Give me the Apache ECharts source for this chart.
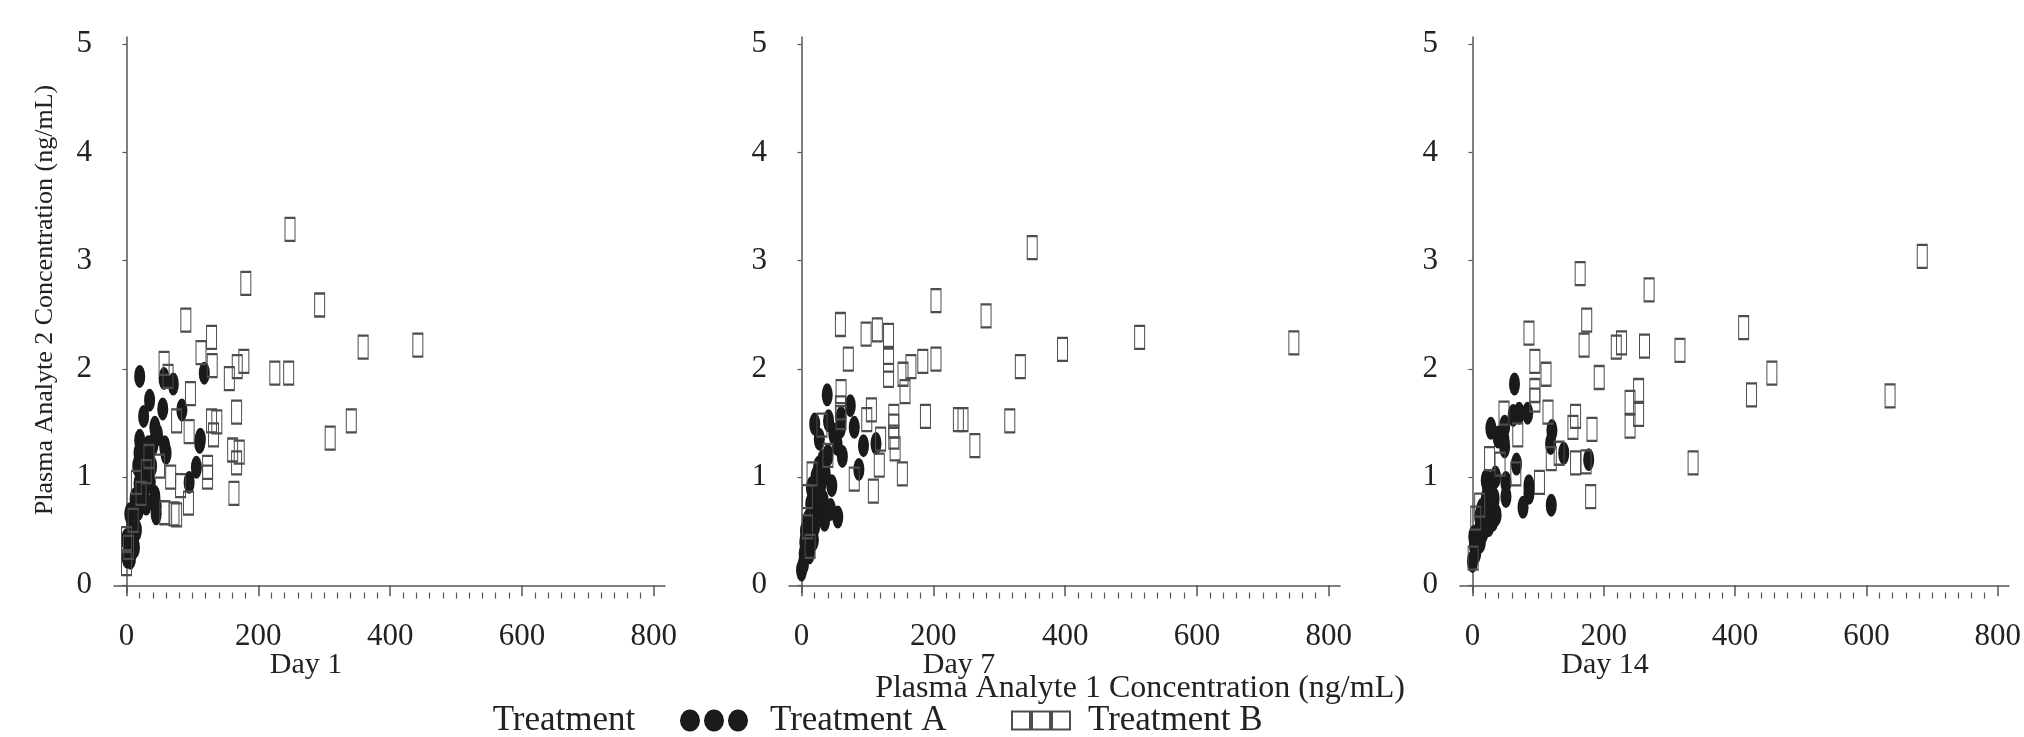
<!DOCTYPE html>
<html>
<head>
<meta charset="utf-8">
<script src="https://cdn.jsdelivr.net/npm/echarts@6/dist/echarts.min.js"></script>
<style>
  html, body { margin: 0; padding: 0; background: #ffffff; }
  #chart { width: 2024px; height: 737px; }
</style>
</head>
<body>
<div id="chart"></div>
<script>
// tick labels
var xMajorTicks = [0, 200, 400, 600, 800];
var xMinorTicks = [20, 40, 60, 80, 100, 120, 140, 160, 180, 220, 240, 260, 280, 300, 320, 340, 360, 380,
  420, 440, 460, 480, 500, 520, 540, 560, 580, 620, 640, 660, 680, 700, 720, 740, 760, 780];
var yTicks = [0, 1, 2, 3, 4, 5];
var dayLabels = ['Day 1', 'Day 7', 'Day 14'];

// Day 1  [analyte 1, analyte 2]
var day1A = [[20,1.93],[57,1.91],[71,1.86],[118,1.96],[35,1.71],[55,1.63],[84,1.62],[26,1.56],[43,1.46],
  [20,1.34],[19,1.22],[33,1.28],[40,1.30],[58,1.28],[60,1.22],[111,1.32],[106,1.09],[95,0.95],[28,1.09],
  [19,0.94],[43,0.82],[45,0.66],[23,0.76],[5,0.66],[15,0.51],[0,0.42],[1,0.26],[4,0.36],[11,0.60],[32,1.18],
  [47,1.39],[112,1.35],[45,0.73],[10,0.45],[18,0.70],[27,0.90],[2,0.30],[8,0.55],[13,0.80],[25,1.00],
  [30,0.75],[36,0.95],[12,0.35],[6,0.25],[17,1.10],[38,1.10],[24,1.25]];
var day1B = [[248,3.29],[181,2.79],[293,2.59],[90,2.45],[129,2.29],[113,2.15],[130,2.03],[57,2.05],[63,1.93],
  [156,1.91],[168,2.02],[178,2.07],[225,1.96],[246,1.96],[359,2.20],[442,2.22],[97,1.77],[167,1.60],[76,1.52],
  [129,1.52],[137,1.51],[95,1.42],[132,1.39],[341,1.52],[309,1.36],[161,1.25],[171,1.23],[167,1.13],[123,1.09],
  [123,1.00],[67,1.00],[82,0.92],[163,0.85],[94,0.76],[58,0.67],[72,0.66],[76,0.65],[34,1.19],[15,0.95],
  [50,1.10],[0,0.43],[0,0.20],[3,0.35],[10,0.60],[22,0.85],[30,1.05]];

// Day 7
var day7A = [[39,1.76],[20,1.49],[41,1.52],[74,1.66],[80,1.46],[59,1.46],[62,1.19],[49,1.40],[94,1.29],
  [113,1.31],[87,1.07],[46,0.92],[55,0.63],[27,1.35],[26,1.09],[33,0.78],[21,0.88],[16,0.63],[18,0.42],
  [4,0.29],[0,0.14],[12,0.51],[36,1.03],[54,1.30],[60,1.55],[8,0.35],[30,0.95],[25,0.70],[14,0.75],
  [6,0.50],[40,1.20],[22,1.00],[3,0.20],[5,0.40],[10,0.60],[15,0.90],[20,0.55],[28,0.85],[32,1.15],
  [35,0.60],[44,0.70],[12,0.30]];
var day7B = [[350,3.12],[513,2.29],[747,2.24],[396,2.18],[332,2.02],[280,2.49],[204,2.63],[316,1.52],[263,1.29],
  [238,1.53],[245,1.53],[188,1.56],[153,1.03],[109,0.87],[80,0.98],[118,1.11],[204,2.09],[184,2.07],[166,2.02],
  [154,1.95],[157,1.79],[132,2.31],[115,2.36],[98,2.32],[132,2.08],[132,1.94],[59,2.41],[71,2.09],[106,1.62],
  [99,1.53],[140,1.56],[140,1.47],[140,1.37],[142,1.26],[120,1.35],[60,1.79],[59,1.64],[31,1.48],[16,1.03],
  [9,0.82],[9,0.54],[13,0.36],[60,1.55],[40,1.20]];

// Day 14
var day14A = [[64,1.86],[28,1.45],[39,1.37],[48,1.34],[62,1.57],[71,1.59],[84,1.59],[49,1.47],[49,1.28],
  [67,1.12],[121,1.43],[119,1.31],[139,1.22],[177,1.16],[51,0.95],[86,0.92],[51,0.82],[77,0.72],[120,0.74],
  [21,0.97],[23,0.90],[22,0.73],[25,0.55],[16,0.49],[3,0.37],[0,0.22],[11,0.63],[31,0.60],[21,0.80],[8,0.43],
  [30,0.95],[35,1.00],[28,0.70],[86,0.85],[5,0.30],[10,0.50],[14,0.70],[18,0.60],[27,0.85],[33,0.80],
  [36,0.65],[2,0.45],[12,0.40]];
var day14B = [[164,2.88],[269,2.73],[174,2.45],[685,3.04],[413,2.38],[316,2.17],[262,2.21],[227,2.24],[219,2.20],
  [170,2.22],[86,2.33],[95,2.07],[112,1.95],[193,1.92],[456,1.96],[425,1.76],[636,1.75],[253,1.80],[240,1.69],
  [253,1.58],[240,1.47],[182,1.44],[157,1.56],[153,1.46],[115,1.60],[95,1.80],[95,1.71],[48,1.59],[69,1.39],
  [26,1.17],[42,1.12],[66,1.03],[102,0.95],[120,1.17],[132,1.22],[173,1.14],[180,0.82],[336,1.13],[157,1.13],
  [1,0.25],[5,0.62],[11,0.74]];

var seriesA = [day1A, day7A, day14A];
var seriesB = [day1B, day7B, day14B];

var chart = echarts.init(document.getElementById('chart'));

var FONT = 'Liberation Serif';
var INK = '#222222';
var AXIS = '#555555';
var ellipsePath = 'path://M0,10a10,10 0 1,0 20,0a10,10 0 1,0 -20,0';
var legendDots = 'path://M1,11a10,11 0 1,0 20,0a10,11 0 1,0 -20,0M25,11a10,11 0 1,0 20,0a10,11 0 1,0 -20,0M49,11a10,11 0 1,0 20,0a10,11 0 1,0 -20,0';
var legendBoxes = 'path://M0,0h18v18h-18zM20,0h18v18h-18zM40,0h18v18h-18z';

var gridLeft = [114, 789, 1460];
var grids = [], xAxes = [], yAxes = [], series = [];

for (var i = 0; i < 3; i++) {
  grids.push({ left: gridLeft[i], top: 37, width: 551, height: 555.5 });
  // main x axis: line, major ticks, labels
  xAxes.push({
    type: 'value', gridIndex: i, position: 'bottom', min: -19, max: 817,
    splitLine: { show: false },
    axisLine: { show: true, lineStyle: { color: AXIS, width: 1.5 } },
    axisTick: { show: true, length: 11, customValues: xMajorTicks, lineStyle: { color: AXIS, width: 1.5 } },
    axisLabel: { customValues: xMajorTicks, margin: 29, fontFamily: FONT, fontSize: 31, color: INK }
  });
  // minor ticks only
  xAxes.push({
    type: 'value', gridIndex: i, position: 'bottom', offset: 0, min: -19, max: 817,
    splitLine: { show: false },
    axisLine: { show: false },
    axisTick: { show: true, length: 6, customValues: xMinorTicks, lineStyle: { color: AXIS, width: 1.2 } },
    axisLabel: { show: false }
  });
  yAxes.push({
    type: 'value', gridIndex: i, min: -0.067, max: 5.067,
    splitLine: { show: false },
    axisLine: { show: true, lineStyle: { color: AXIS, width: 1.5 } },
    axisTick: { show: true, length: 4, customValues: yTicks, lineStyle: { color: AXIS, width: 1.2 } },
    axisLabel: { customValues: yTicks, margin: 22, fontFamily: FONT, fontSize: 31, color: INK }
  });
  series.push({
    name: 'Treatment A', type: 'scatter', xAxisIndex: i * 2, yAxisIndex: i,
    symbol: ellipsePath, symbolSize: [11, 23],
    itemStyle: { color: '#1a1a1a', opacity: 1 },
    data: seriesA[i]
  });
  series.push({
    name: 'Treatment B', type: 'scatter', xAxisIndex: i * 2, yAxisIndex: i,
    symbol: 'rect', symbolSize: [10, 23],
    itemStyle: { color: 'rgba(255,255,255,0)', borderColor: '#4d4d4d', borderWidth: 1.5, opacity: 1 },
    data: seriesB[i]
  });
}

var dayX = [306, 959, 1605];
var texts = [];
for (var j = 0; j < 3; j++) {
  texts.push({ type: 'text', x: dayX[j], y: 665, style: { text: dayLabels[j], font: '30px "' + FONT + '"', fill: INK, align: 'center', verticalAlign: 'middle' } });
}
texts.push({ type: 'text', x: 1140, y: 689, style: { text: 'Plasma Analyte 1 Concentration (ng/mL)', font: '32px "' + FONT + '"', fill: INK, align: 'center', verticalAlign: 'middle' } });
texts.push({ type: 'text', x: 45, y: 300, rotation: Math.PI / 2, style: { text: 'Plasma Analyte 2 Concentration (ng/mL)', font: '26px "' + FONT + '"', fill: INK, align: 'center', verticalAlign: 'middle' } });
texts.push({ type: 'text', x: 564, y: 721, style: { text: 'Treatment', font: '35px "' + FONT + '"', fill: INK, align: 'center', verticalAlign: 'middle' } });

var option = {
  animation: false,
  backgroundColor: '#ffffff',
  grid: grids,
  xAxis: xAxes,
  yAxis: yAxes,
  legend: [
    {
      left: 680, top: 703, padding: 0, itemWidth: 70, itemHeight: 22,
      data: [{ name: 'Treatment A', icon: legendDots }],
      textStyle: { fontFamily: FONT, fontSize: 35, color: INK, padding: [0, 0, 0, 16] }
    },
    {
      left: 1011, top: 703, padding: 0, itemWidth: 58, itemHeight: 18,
      data: [{ name: 'Treatment B', icon: legendBoxes }],
      textStyle: { fontFamily: FONT, fontSize: 35, color: INK, padding: [0, 0, 0, 13] }
    }
  ],
  graphic: texts,
  series: series
};

chart.setOption(option);
window.addEventListener('resize', function () {
  chart.resize();
});
</script>
</body>
</html>
